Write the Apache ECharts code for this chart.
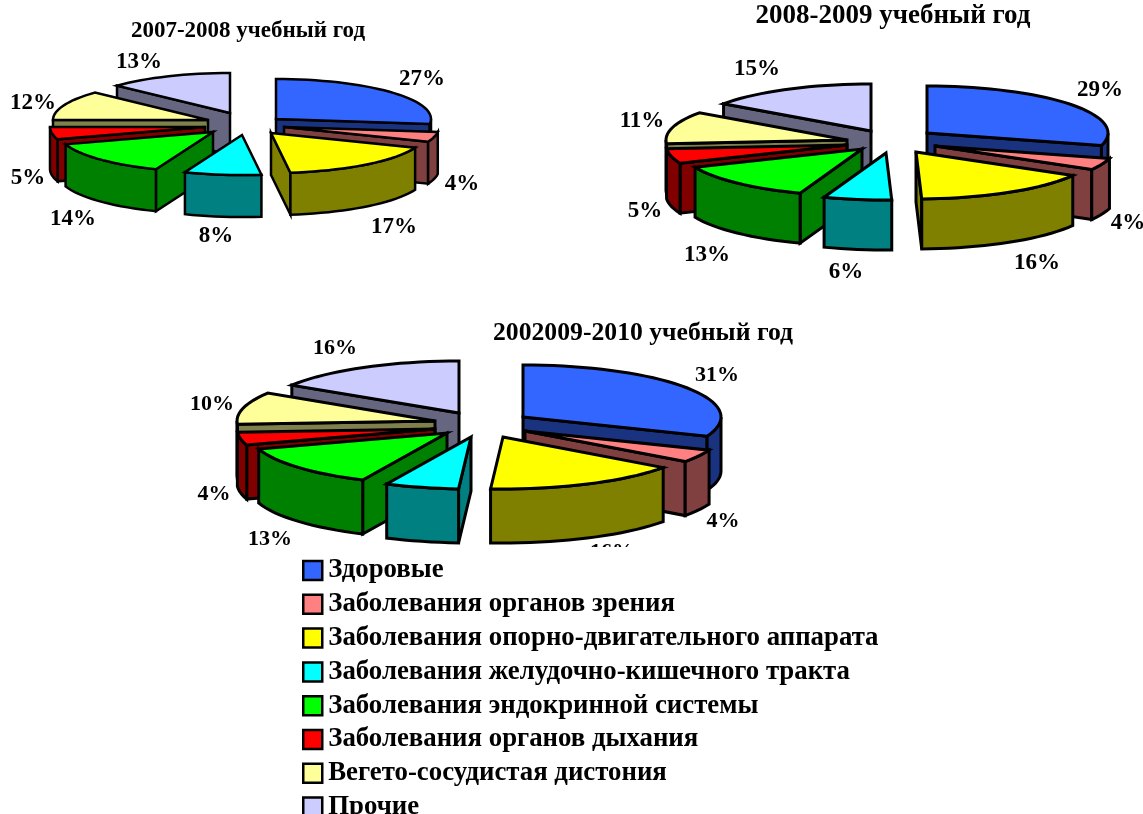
<!DOCTYPE html>
<html>
<head>
<meta charset="utf-8">
<style>
  html, body { margin: 0; padding: 0; background: #fff; }
  #chart { width: 1143px; height: 814px; }
</style>
<script src="https://cdn.jsdelivr.net/npm/echarts@6/dist/echarts.min.js"></script>
</head>
<body>
<div id="chart"></div>
<script>
const categories = [
  'Здоровые',
  'Заболевания органов зрения',
  'Заболевания опорно-двигательного аппарата',
  'Заболевания желудочно-кишечного тракта',
  'Заболевания эндокринной системы',
  'Заболевания органов дыхания',
  'Вегето-сосудистая дистония',
  'Прочие'
]
const values0708 = [27, 4, 17, 8, 14, 5, 12, 13]
const values0809 = [29, 4, 16, 6, 13, 5, 11, 15]
const values0910 = [31, 4, 16, 6, 13, 4, 10, 16] // 6% is hidden in the picture, estimated
const allValues = [values0708, values0809, values0910]

const topColors = ['#3366ff', '#ff8080', '#ffff00', '#00ffff', '#00ff00', '#ff0000', '#ffff99', '#ccccff']
const sideColors = ['#1a3380', '#804040', '#808000', '#008080', '#008000', '#800000', '#80804d', '#666680']

// back to front, the slices overlap each other
const drawOrder = [7, 0, 6, 1, 5, 4, 2, 3]

// every slice is pulled out of the pie by hand in the original, so each has its own tip
const pies = [
  {
    rx: 155, ry: 40, h: 42, fontSize: 23, stroke: 2.5,
    tips: [[276, 119], [284, 127], [271, 133], [242, 135], [213, 132], [205, 127], [208, 120], [230, 113]],
    labels: [[422, 79], [462, 184], [394, 227], [216, 236], [73, 219], [28, 178], [33, 103], [139, 62]]
  },
  {
    rx: 181, ry: 47, h: 50, fontSize: 23, stroke: 3,
    tips: [[927, 133], [935, 146], [916, 152], [886, 153], [862, 149], [847, 145], [847, 140], [871, 131]],
    labels: [[1100, 90], [1128, 223], [1037, 263], [846, 272], [707, 255], [645, 211], [642, 121], [757, 69]]
  },
  {
    rx: 198, ry: 52, h: 54, fontSize: 22, stroke: 3,
    tips: [[523, 417], [525, 431], [503, 437], [471, 437], [447, 433], [435, 429], [435, 421], [459, 413]],
    labels: [[717, 375], [723, 521], [612, 552], [440, 570], [270, 539], [214, 494], [212, 404], [335, 348]]
  }
]

const FONT = '"Liberation Serif", serif'

function sliceAngles (pieIdx, catIdx) {
  const vals = allValues[pieIdx]
  const sum = vals.reduce((a, b) => a + b, 0)
  const before = vals.slice(0, catIdx).reduce((a, b) => a + b, 0)
  const map = (v) => echarts.number.linearMap(v, [0, sum], [0, 360])
  return [map(before), map(before + vals[catIdx])]
}

function rimPoint (pie, tip, deg, drop) {
  const a = deg * Math.PI / 180
  return [tip[0] + pie.rx * Math.sin(a), tip[1] - pie.ry * Math.cos(a) + drop]
}

function rimArc (pie, tip, from, to, drop) {
  const pts = []
  const n = Math.max(2, Math.ceil((to - from) / 3))
  for (let i = 0; i <= n; i++) {
    pts.push(rimPoint(pie, tip, from + (to - from) * i / n, drop))
  }
  return pts
}

function face (pie, points, color) {
  return {
    type: 'polygon',
    shape: { points: points },
    style: { fill: color, stroke: '#000', lineWidth: pie.stroke, lineJoin: 'miter', miterLimit: 5 }
  }
}

function radialWall (pie, tip, deg, color) {
  const rim = rimPoint(pie, tip, deg, 0)
  return face(pie, [tip, rim, [rim[0], rim[1] + pie.h], [tip[0], tip[1] + pie.h]], color)
}

function drawSlice (pieIdx, catIdx) {
  const pie = pies[pieIdx]
  const tip = pie.tips[catIdx]
  const [a1, a2] = sliceAngles(pieIdx, catIdx)
  const kids = []

  // walls that face the viewer
  if (a1 > 180) kids.push(radialWall(pie, tip, a1, sideColors[catIdx]))
  if (a2 < 180) kids.push(radialWall(pie, tip, a2, sideColors[catIdx]))
  const wallFrom = Math.max(a1, 90)
  const wallTo = Math.min(a2, 270)
  if (wallTo > wallFrom) {
    const upper = rimArc(pie, tip, wallFrom, wallTo, 0)
    const lower = rimArc(pie, tip, wallFrom, wallTo, pie.h).reverse()
    kids.push(face(pie, upper.concat(lower), sideColors[catIdx]))
  }

  kids.push(face(pie, [tip].concat(rimArc(pie, tip, a1, a2, 0)), topColors[catIdx]))

  const label = pie.labels[catIdx]
  kids.push({
    type: 'text',
    style: {
      x: label[0],
      y: label[1],
      text: allValues[pieIdx][catIdx] + '%',
      fill: '#000',
      font: 'bold ' + pie.fontSize + 'px ' + FONT,
      align: 'center',
      verticalAlign: 'middle'
    }
  })
  return { type: 'group', children: kids }
}

const myChart = echarts.init(document.getElementById('chart'))

const option = {
  animation: false,
  backgroundColor: '#fff',
  title: [
    { text: '2007-2008 учебный год', left: 248, top: 20, textAlign: 'center', textStyle: { fontFamily: FONT, fontWeight: 'bold', fontSize: 23, color: '#000' }, padding: 0 },
    { text: '2008-2009 учебный год', left: 893, top: 3, textAlign: 'center', textStyle: { fontFamily: FONT, fontWeight: 'bold', fontSize: 27, color: '#000' }, padding: 0 },
    { text: '2002009-2010 учебный год', left: 643, top: 320, textAlign: 'center', textStyle: { fontFamily: FONT, fontWeight: 'bold', fontSize: 25.7, color: '#000' }, padding: 0 }
  ],
  legend: {
    orient: 'vertical',
    left: 300,
    top: 547,
    height: 267,
    padding: [10, 8, 0, 2],
    backgroundColor: '#fff',
    selectedMode: false,
    itemWidth: 19,
    itemHeight: 19,
    itemGap: 6.8,
    icon: 'rect',
    textStyle: { fontFamily: FONT, fontWeight: 'bold', fontSize: 26.8, color: '#000', padding: [0, 0, 0, 1] },
    data: categories.map((name, i) => ({
      name: name,
      itemStyle: { color: topColors[i], borderColor: '#000', borderWidth: 2.5 }
    }))
  },
  series: drawOrder.map((catIdx) => ({
    type: 'custom',
    name: categories[catIdx],
    coordinateSystem: 'none',
    silent: true,
    itemStyle: { color: topColors[catIdx] },
    data: allValues.map((vals, pieIdx) => [pieIdx, vals[catIdx]]),
    renderItem: (params, api) => drawSlice(api.value(0), catIdx)
  }))
}

option && myChart.setOption(option)
</script>
</body>
</html>
